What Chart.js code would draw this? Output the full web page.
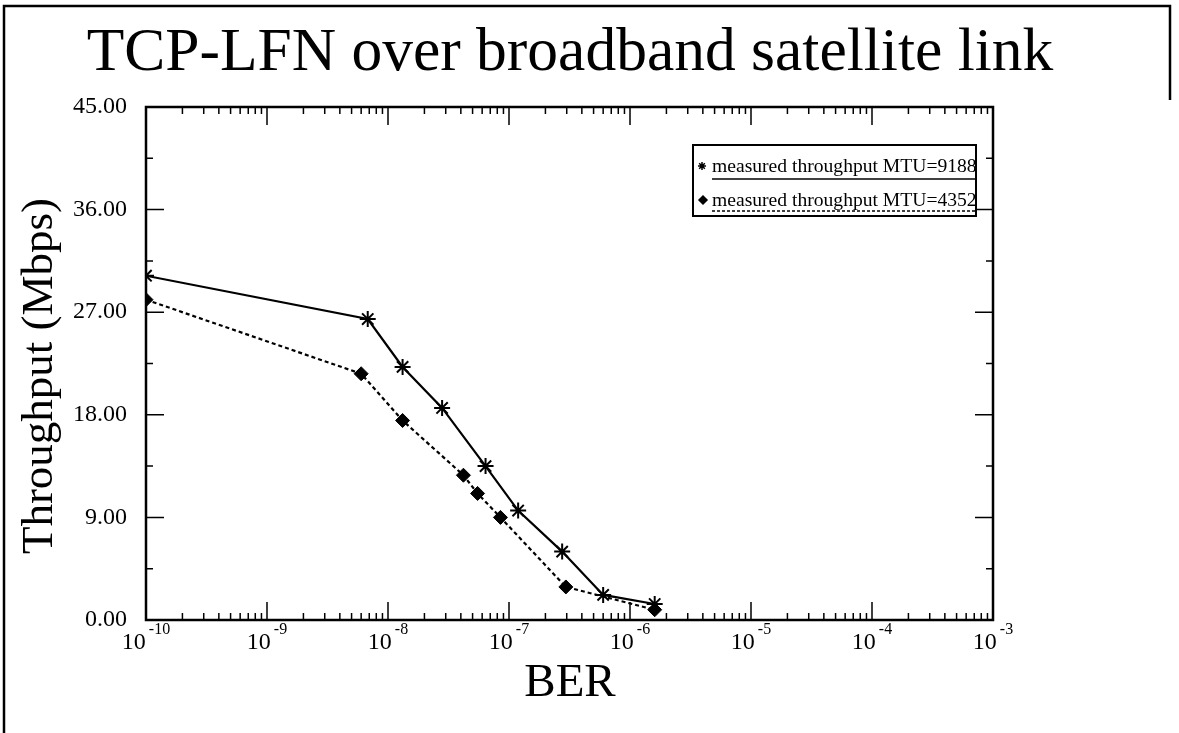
<!DOCTYPE html>
<html>
<head>
<meta charset="utf-8">
<script src="https://cdn.jsdelivr.net/npm/chart.js@4.4.1/dist/chart.umd.min.js"></script>
<style>
  body { margin: 0; background: #fff; }
  #wrap { width: 1179px; height: 733px; }
</style>
</head>
<body>
<div id="wrap"><canvas id="grafico" width="1179" height="733"></canvas></div>
<script>
// =============== DADOS ===============
const ber9188 = [1e-10, 6.8e-9, 1.32e-8, 2.8e-8, 6.4e-8, 1.19e-7, 2.75e-7, 6.0e-7, 1.6e-6];
const thr9188 = [30.2, 26.4, 22.2, 18.6, 13.5, 9.6, 6.0, 2.2, 1.4];
const ber4352 = [1e-10, 6.0e-9, 1.32e-8, 4.2e-8, 5.5e-8, 8.5e-8, 2.95e-7, 1.6e-6];
const thr4352 = [28.1, 21.6, 17.5, 12.7, 11.1, 9.0, 2.9, 0.9];
const seriesLabels = ['measured throughput MTU=9188', 'measured throughput MTU=4352'];
const yTicks = [0, 9, 18, 27, 36, 45];
const xExponents = [-10, -9, -8, -7, -6, -5, -4, -3];

const serif = "'Liberation Serif', 'Times New Roman', serif";

function pontos(xs, ys) {
    return xs.map((x, i) => ({ x: x, y: ys[i] }));
}

// =============== DESENHO DOS EIXOS, TEXTOS E LEGENDA ===============
const molduraPlugin = {
    id: 'moldura',
    afterDatasetsDraw(chart) {
        const ctx = chart.ctx;
        const xs = chart.scales.x;
        const ys = chart.scales.y;
        const a = chart.chartArea;
        ctx.save();
        ctx.strokeStyle = '#000';
        ctx.fillStyle = '#000';

        // borda externa da página
        ctx.lineWidth = 2.5;
        ctx.beginPath();
        ctx.moveTo(4, 733); ctx.lineTo(4, 6); ctx.lineTo(1170, 6); ctx.lineTo(1170, 100);
        ctx.stroke();

        // caixa do gráfico
        ctx.lineWidth = 2.5;
        ctx.strokeRect(a.left, a.top, a.right - a.left, a.bottom - a.top);

        // ticks do eixo x (log)
        ctx.lineWidth = 1.5;
        ctx.beginPath();
        for (let i = 0; i < xExponents.length; i++) {
            const e = xExponents[i];
            const p = xs.getPixelForValue(Math.pow(10, e));
            ctx.moveTo(p, a.bottom); ctx.lineTo(p, a.bottom - 18);
            ctx.moveTo(p, a.top); ctx.lineTo(p, a.top + 18);
            if (i < xExponents.length - 1) {
                for (let m = 2; m <= 9; m++) {
                    const q = xs.getPixelForValue(m * Math.pow(10, e));
                    ctx.moveTo(q, a.bottom); ctx.lineTo(q, a.bottom - 7);
                    ctx.moveTo(q, a.top); ctx.lineTo(q, a.top + 7);
                }
            }
        }
        // ticks do eixo y
        for (let v = 0; v <= 45; v += 4.5) {
            const p = ys.getPixelForValue(v);
            const len = (v % 9 === 0) ? 18 : 7;
            ctx.moveTo(a.left, p); ctx.lineTo(a.left + len, p);
            ctx.moveTo(a.right, p); ctx.lineTo(a.right - len, p);
        }
        ctx.stroke();

        // rótulos do eixo y
        ctx.font = '24px ' + serif;
        ctx.textAlign = 'right';
        ctx.textBaseline = 'middle';
        yTicks.forEach(v => {
            ctx.fillText(v.toFixed(2), 127, ys.getPixelForValue(v));
        });

        // rótulos do eixo x: 10 com expoente
        ctx.textAlign = 'left';
        ctx.textBaseline = 'alphabetic';
        xExponents.forEach(e => {
            const p = xs.getPixelForValue(Math.pow(10, e));
            ctx.font = '24px ' + serif;
            const wBase = ctx.measureText('10').width;
            ctx.font = '16px ' + serif;
            const sup = '-' + Math.abs(e);
            const wSup = ctx.measureText(sup).width;
            const x0 = p - (wBase + 3 + wSup) / 2;
            ctx.font = '24px ' + serif;
            ctx.fillText('10', x0, 649);
            ctx.font = '16px ' + serif;
            ctx.fillText(sup, x0 + wBase + 3, 634);
        });

        // títulos
        ctx.textAlign = 'center';
        ctx.font = '61.5px ' + serif;
        ctx.fillText('TCP-LFN over broadband satellite link', 570, 70);
        ctx.font = '47px ' + serif;
        ctx.fillText('BER', 570, 696);
        ctx.save();
        ctx.translate(52, 376);
        ctx.rotate(-Math.PI / 2);
        ctx.font = '45px ' + serif;
        ctx.fillText('Throughput (Mbps)', 0, 0);
        ctx.restore();

        // legenda
        const lx = 693, ly = 145, lw = 283, lh = 71;
        ctx.fillStyle = '#fff';
        ctx.fillRect(lx, ly, lw, lh);
        ctx.fillStyle = '#000';
        ctx.save();
        ctx.beginPath();
        ctx.rect(lx, ly, lw, lh);
        ctx.clip();
        ctx.font = '19.6px ' + serif;
        ctx.textAlign = 'left';
        ctx.fillText(seriesLabels[0], 712, 172);
        ctx.fillText(seriesLabels[1], 712, 206);
        ctx.lineWidth = 1.5;
        ctx.beginPath();
        ctx.moveTo(712, 179); ctx.lineTo(lx + lw, 179);
        ctx.stroke();
        ctx.setLineDash([3, 2]);
        ctx.beginPath();
        ctx.moveTo(712, 211); ctx.lineTo(lx + lw, 211);
        ctx.stroke();
        ctx.setLineDash([]);
        ctx.restore();
        ctx.lineWidth = 2;
        ctx.strokeRect(lx, ly, lw, lh);
        ctx.lineWidth = 1.5;
        Chart.helpers.drawPoint(ctx, { pointStyle: 'star', radius: 4, borderWidth: 1.5 }, 702, 166);
        Chart.helpers.drawPoint(ctx, { pointStyle: 'rectRot', radius: 4, borderWidth: 1 }, 703, 200);
        ctx.fill();

        ctx.restore();
    }
};

// =============== GRÁFICO ===============
const ctx = document.getElementById('grafico').getContext('2d');
const chart = new Chart(ctx, {
    type: 'line',
    data: {
        datasets: [{
            label: seriesLabels[0],
            data: pontos(ber9188, thr9188),
            borderColor: '#000',
            borderWidth: 2.2,
            pointStyle: 'star',
            pointRadius: 8,
            pointBorderWidth: 2,
            pointBorderColor: '#000',
            pointBackgroundColor: '#000',
            tension: 0,
            clip: 0
        }, {
            label: seriesLabels[1],
            data: pontos(ber4352, thr4352),
            borderColor: '#000',
            borderWidth: 2.2,
            borderDash: [4, 3],
            pointStyle: 'rectRot',
            pointRadius: 7,
            pointBorderWidth: 1,
            pointBorderColor: '#000',
            pointBackgroundColor: '#000',
            tension: 0,
            clip: 0
        }]
    },
    options: {
        responsive: false,
        animation: false,
        devicePixelRatio: 1,
        layout: { padding: { left: 146, right: 186, top: 107, bottom: 113 } },
        plugins: {
            legend: { display: false },
            tooltip: { enabled: false }
        },
        scales: {
            x: { type: 'logarithmic', min: 1e-10, max: 1e-3, display: false },
            y: { type: 'linear', min: 0, max: 45, display: false }
        }
    },
    plugins: [molduraPlugin]
});
</script>
</body>
</html>
